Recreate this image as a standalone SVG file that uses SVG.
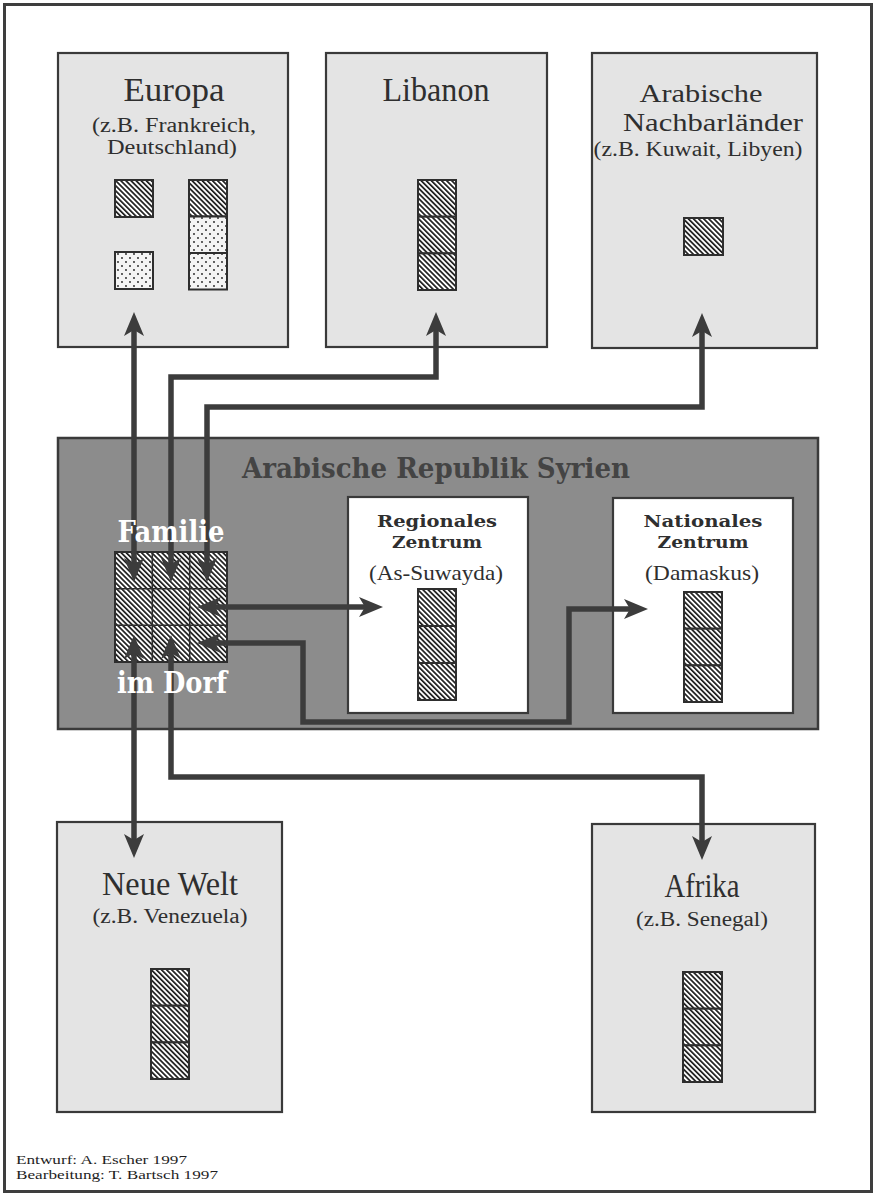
<svg xmlns="http://www.w3.org/2000/svg" width="876" height="1196" viewBox="0 0 876 1196">
  <style>
    .frame { fill: #ffffff; stroke: #3e3e3e; stroke-width: 3; }
    .region { fill: #e4e4e4; stroke: #3a3a3a; stroke-width: 2.2; }
    .syria { fill: #8c8c8c; stroke: #3a3a3a; stroke-width: 2.5; }
    .center { fill: #ffffff; stroke: #3a3a3a; stroke-width: 2.2; }
    .hatch { fill: url(#hatch); stroke: #2e2e2e; stroke-width: 2; }
    .dots { fill: url(#dots); stroke: #2e2e2e; stroke-width: 2; }
    .gridline { stroke: #2e2e2e; stroke-width: 1.6; fill: none; }
    .title { font-family: "Liberation Serif", "DejaVu Serif", serif; font-size: 33px; fill: #2f2f2f; text-anchor: middle; }
    .title2 { font-family: "Liberation Serif", "DejaVu Serif", serif; font-size: 25px; fill: #2f2f2f; text-anchor: middle; }
    .sub { font-family: "Liberation Serif", "DejaVu Serif", serif; font-size: 20px; fill: #2f2f2f; text-anchor: middle; }
    .ctitle { font-family: "DejaVu Serif", "Liberation Serif", serif; font-weight: bold; font-size: 17px; fill: #2f2f2f; text-anchor: middle; }
    .csub { font-family: "Liberation Serif", "DejaVu Serif", serif; font-size: 21px; fill: #2f2f2f; text-anchor: middle; }
    .syriatitle { font-family: "DejaVu Serif", "Liberation Serif", serif; font-weight: bold; font-size: 28px; fill: #444444; text-anchor: middle; }
    .fam { font-family: "DejaVu Serif", "Liberation Serif", serif; font-weight: bold; font-size: 29px; fill: #ffffff; text-anchor: middle; }
    .foot { font-family: "Liberation Serif", "Times New Roman", serif; font-size: 12.5px; fill: #1e1e1e; }
    .conn { fill: none; stroke: #3c3c3c; stroke-width: 5.5; stroke-linejoin: miter; marker-start: url(#ah); marker-end: url(#ah); }
  </style>
  <defs>
    <pattern id="hatch" patternUnits="userSpaceOnUse" width="3.6" height="10" patternTransform="rotate(-45)">
      <rect x="0" y="0" width="3.6" height="10" fill="#ffffff"/>
      <rect x="0" y="0" width="1.7" height="10" fill="#1c1c1c"/>
    </pattern>
    <pattern id="dots" patternUnits="userSpaceOnUse" width="8" height="8">
      <rect x="0" y="0" width="8" height="8" fill="#f4f4f4"/>
      <circle cx="2" cy="2" r="0.9" fill="#1c1c1c"/>
      <circle cx="6" cy="6" r="0.9" fill="#1c1c1c"/>
    </pattern>
    <marker id="ah" viewBox="0 0 24 20" refX="14" refY="10" markerWidth="24" markerHeight="20" markerUnits="userSpaceOnUse" orient="auto-start-reverse">
      <path d="M0,0 L24,10 L0,20 L6,10 Z" fill="#3c3c3c"/>
    </marker>
  </defs>

  <rect class="frame" x="4.5" y="4.5" width="867" height="1187"/>

  <g id="europa">
    <rect class="region" x="58" y="53" width="230" height="294"/>
    <text class="title" x="174" y="101" textLength="101" lengthAdjust="spacingAndGlyphs">Europa</text>
    <text class="sub" x="174" y="132" textLength="164" lengthAdjust="spacingAndGlyphs">(z.B. Frankreich,</text>
    <text class="sub" x="172" y="154" textLength="130" lengthAdjust="spacingAndGlyphs">Deutschland)</text>
    <rect class="hatch" x="115" y="180" width="38" height="37"/>
    <rect class="dots" x="115" y="252" width="38" height="37"/>
    <rect class="hatch" x="189" y="180" width="38" height="36.5"/>
    <rect class="dots" x="189" y="216.5" width="38" height="36.5"/>
    <rect class="dots" x="189" y="253" width="38" height="36.5"/>
  </g>

  <g id="libanon">
    <rect class="region" x="326" y="53" width="221" height="294"/>
    <text class="title" x="436" y="101" textLength="107" lengthAdjust="spacingAndGlyphs">Libanon</text>
    <rect class="hatch" x="418" y="180" width="38" height="36.7"/>
    <rect class="hatch" x="418" y="216.7" width="38" height="36.7"/>
    <rect class="hatch" x="418" y="253.4" width="38" height="36.6"/>
  </g>

  <g id="nachbarlaender">
    <rect class="region" x="592" y="53" width="225" height="295"/>
    <text class="title2" x="701" y="102" textLength="123" lengthAdjust="spacingAndGlyphs">Arabische</text>
    <text class="title2" x="713" y="131" textLength="180" lengthAdjust="spacingAndGlyphs">Nachbarländer</text>
    <text class="sub" x="698" y="156" textLength="209" lengthAdjust="spacingAndGlyphs">(z.B. Kuwait, Libyen)</text>
    <rect class="hatch" x="684" y="218" width="39" height="37"/>
  </g>

  <g id="syrien">
    <rect class="syria" x="58" y="438" width="760" height="291"/>
    <text class="syriatitle" x="436" y="478" textLength="388" lengthAdjust="spacingAndGlyphs">Arabische Republik Syrien</text>
  </g>

  <g id="regionales-zentrum">
    <rect class="center" x="348" y="497" width="180" height="216"/>
    <text class="ctitle" x="437" y="527" textLength="120" lengthAdjust="spacingAndGlyphs">Regionales</text>
    <text class="ctitle" x="437" y="548" textLength="90" lengthAdjust="spacingAndGlyphs">Zentrum</text>
    <text class="csub" x="436" y="580" textLength="134" lengthAdjust="spacingAndGlyphs">(As-Suwayda)</text>
    <rect class="hatch" x="418" y="589" width="38" height="37"/>
    <rect class="hatch" x="418" y="626" width="38" height="37"/>
    <rect class="hatch" x="418" y="663" width="38" height="37"/>
  </g>

  <g id="nationales-zentrum">
    <rect class="center" x="613" y="498" width="180" height="215"/>
    <text class="ctitle" x="703" y="527" textLength="119" lengthAdjust="spacingAndGlyphs">Nationales</text>
    <text class="ctitle" x="703" y="548" textLength="91" lengthAdjust="spacingAndGlyphs">Zentrum</text>
    <text class="csub" x="702" y="580" textLength="114" lengthAdjust="spacingAndGlyphs">(Damaskus)</text>
    <rect class="hatch" x="684" y="592" width="38" height="36.7"/>
    <rect class="hatch" x="684" y="628.7" width="38" height="36.7"/>
    <rect class="hatch" x="684" y="665.4" width="38" height="36.6"/>
  </g>

  <g id="familie-grid">
    <rect class="hatch" x="115" y="552" width="112" height="110"/>
    <path class="gridline" d="M152.3,552 V662 M189.7,552 V662 M115,588.7 H227 M115,625.3 H227"/>
  </g>

  <g id="neue-welt">
    <rect class="region" x="57" y="822" width="225" height="290"/>
    <text class="title" x="170" y="895" textLength="136" lengthAdjust="spacingAndGlyphs">Neue Welt</text>
    <text class="sub" x="170" y="923" textLength="155" lengthAdjust="spacingAndGlyphs">(z.B. Venezuela)</text>
    <rect class="hatch" x="151" y="969" width="38" height="36.7"/>
    <rect class="hatch" x="151" y="1005.7" width="38" height="36.7"/>
    <rect class="hatch" x="151" y="1042.4" width="38" height="36.6"/>
  </g>

  <g id="afrika">
    <rect class="region" x="592" y="824" width="223" height="288"/>
    <text class="title" x="702" y="897" textLength="75" lengthAdjust="spacingAndGlyphs">Afrika</text>
    <text class="sub" x="702" y="926" textLength="132" lengthAdjust="spacingAndGlyphs">(z.B. Senegal)</text>
    <rect class="hatch" x="683" y="972" width="39" height="36.7"/>
    <rect class="hatch" x="683" y="1008.7" width="39" height="36.7"/>
    <rect class="hatch" x="683" y="1045.4" width="39" height="36.6"/>
  </g>

  <g id="connectors">
    <path class="conn" d="M134,322 L134,572"/>
    <path class="conn" d="M436,322 L436,377 L171,377 L171,572"/>
    <path class="conn" d="M702,323 L702,407 L207,407 L207,572"/>
    <path class="conn" d="M207,607 L373,607"/>
    <path class="conn" d="M207,643 L303,643 L303,722 L569,722 L569,609 L638,609"/>
    <path class="conn" d="M134,645 L134,848"/>
    <path class="conn" d="M171,645 L171,777 L702,777 L702,850"/>
  </g>

  <g id="familie-label">
    <text class="fam" x="171" y="542" textLength="107" lengthAdjust="spacingAndGlyphs">Familie</text>
    <text class="fam" x="172" y="693" textLength="110" lengthAdjust="spacingAndGlyphs">im Dorf</text>
  </g>

  <g id="credits">
    <text class="foot" x="16" y="1164" textLength="171" lengthAdjust="spacingAndGlyphs">Entwurf: A. Escher 1997</text>
    <text class="foot" x="16" y="1179" textLength="202" lengthAdjust="spacingAndGlyphs">Bearbeitung: T. Bartsch 1997</text>
  </g>
</svg>
